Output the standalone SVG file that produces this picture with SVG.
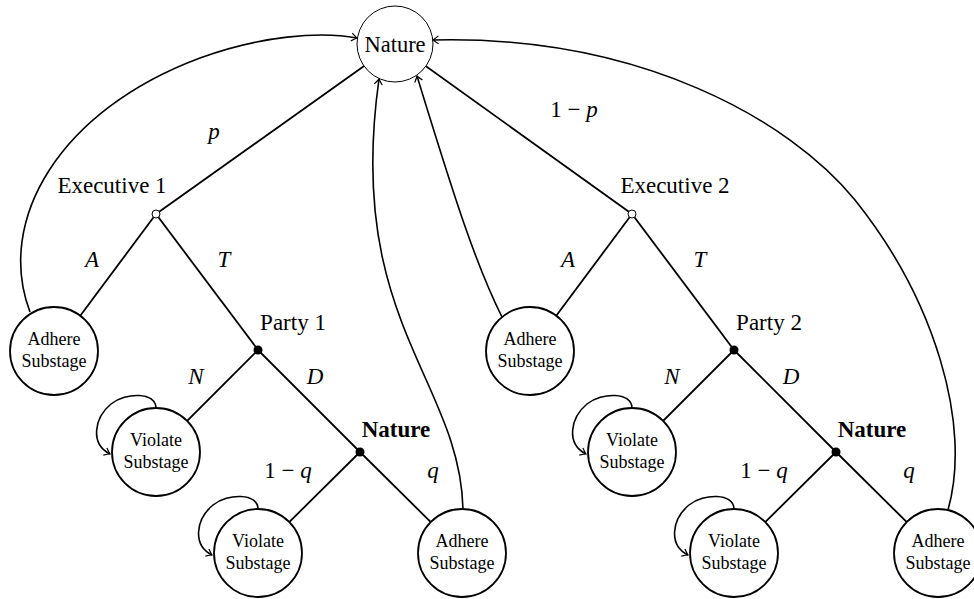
<svg xmlns="http://www.w3.org/2000/svg" width="974" height="599" viewBox="0 0 974 599">
<style>
.lbl{font-size:23px;text-anchor:middle}
.m{font-size:23px;text-anchor:middle;font-style:italic}
.b{font-size:23px;text-anchor:middle;font-weight:bold}
.nt{font-size:18px;text-anchor:middle}
.edge{stroke:#000;stroke-width:1.8;fill:none}
.curve{stroke:#000;stroke-width:1.6;fill:none;marker-end:url(#arr)}
.leaf{fill:#fff;stroke:#000;stroke-width:1.8}
.open{fill:#fff;stroke:#000;stroke-width:1}
.dot{fill:#000}
</style>
<defs>
<marker id="arr" viewBox="-7 -6 9 12" refX="0" refY="0" markerWidth="9" markerHeight="12" markerUnits="userSpaceOnUse" orient="auto" overflow="visible">
<path d="M -5.5 -4 Q -1.5 -0.9 0 0 Q -1.5 0.9 -5.5 4" fill="none" stroke="#000" stroke-width="1.2"/>
</marker>
</defs>
<rect width="974" height="599" fill="#fff"/>
<g font-family="Liberation Serif" fill="#000">
<g id="connectors">
<path class="edge" d="M395 44 L156 214"/>
<path class="edge" d="M395 44 L632 214"/>
<path class="edge" d="M156 214 L54 351"/>
<path class="edge" d="M156 214 L258 350"/>
<path class="edge" d="M258 350 L156 452"/>
<path class="edge" d="M258 350 L360 452"/>
<path class="edge" d="M360 452 L258 553"/>
<path class="edge" d="M360 452 L462 553"/>
<path class="edge" d="M632 214 L530 351"/>
<path class="edge" d="M632 214 L734 350"/>
<path class="edge" d="M734 350 L632 452"/>
<path class="edge" d="M734 350 L836 452"/>
<path class="edge" d="M836 452 L734 553"/>
<path class="edge" d="M836 452 L938 553"/>
<path class="curve" d="M30 312 C-5 220 60 110 200 58 C260 36 320 31 357 38"/>
<path class="curve" d="M463 509 C460 380 345 320 379 79"/>
<path class="curve" d="M502 317 C476 265 455 200 417 76"/>
<path class="curve" d="M948 510 C972 425 935 300 855 200 C790 120 640 35 433 40"/>
<path class="curve" transform="translate(156 452)" d="M0 -44 C0 -60 -30 -60 -45 -48 C-62 -34 -66 -8 -46 2"/>
<path class="curve" transform="translate(258 553)" d="M0 -44 C0 -60 -30 -60 -45 -48 C-62 -34 -66 -8 -46 2"/>
<path class="curve" transform="translate(632 452)" d="M0 -44 C0 -60 -30 -60 -45 -48 C-62 -34 -66 -8 -46 2"/>
<path class="curve" transform="translate(734 553)" d="M0 -44 C0 -60 -30 -60 -45 -48 C-62 -34 -66 -8 -46 2"/>
</g>
<g id="edge-labels">
<text class="m" x="214" y="139">p</text>
<text class="lbl" x="574" y="117">1 − <tspan font-style="italic">p</tspan></text>
<text class="m" x="92" y="267">A</text>
<text class="m" x="224" y="267">T</text>
<text class="m" x="568" y="267">A</text>
<text class="m" x="700" y="267">T</text>
<text class="m" x="196" y="384">N</text>
<text class="m" x="315" y="384">D</text>
<text class="m" x="672" y="384">N</text>
<text class="m" x="791" y="384">D</text>
<text class="lbl" x="288" y="478">1 − <tspan font-style="italic">q</tspan></text>
<text class="m" x="433" y="478">q</text>
<text class="lbl" x="764" y="478">1 − <tspan font-style="italic">q</tspan></text>
<text class="m" x="909" y="478">q</text>
</g>
<g id="nature-root">
<circle cx="395" cy="44" r="38" fill="#fff" stroke="#000" stroke-width="1"/>
<text class="lbl" x="395" y="52" style="font-size:22.5px">Nature</text>
</g>
<g id="executive1">
<circle class="open" cx="156" cy="214" r="4"/>
<text class="lbl" x="112" y="193">Executive 1</text>
</g>
<g id="executive2">
<circle class="open" cx="632" cy="214" r="4"/>
<text class="lbl" x="675" y="193">Executive 2</text>
</g>
<g id="party1">
<circle class="dot" cx="258" cy="350" r="4.5"/>
<text class="lbl" x="293" y="330">Party 1</text>
</g>
<g id="party2">
<circle class="dot" cx="734" cy="350" r="4.5"/>
<text class="lbl" x="769" y="330">Party 2</text>
</g>
<g id="nature1">
<circle class="dot" cx="360" cy="452" r="4.5"/>
<text class="b" x="396" y="437">Nature</text>
</g>
<g id="nature2">
<circle class="dot" cx="836" cy="452" r="4.5"/>
<text class="b" x="872" y="437">Nature</text>
</g>
<g id="adhere-a1">
<circle class="leaf" cx="54" cy="351" r="44"/>
<text class="nt" x="54" y="345">Adhere</text>
<text class="nt" x="54" y="367">Substage</text>
</g>
<g id="violate-n1">
<circle class="leaf" cx="156" cy="452" r="44"/>
<text class="nt" x="156" y="446">Violate</text>
<text class="nt" x="156" y="468">Substage</text>
</g>
<g id="violate-q1">
<circle class="leaf" cx="258" cy="553" r="44"/>
<text class="nt" x="258" y="547">Violate</text>
<text class="nt" x="258" y="569">Substage</text>
</g>
<g id="adhere-q1">
<circle class="leaf" cx="462" cy="553" r="44"/>
<text class="nt" x="462" y="547">Adhere</text>
<text class="nt" x="462" y="569">Substage</text>
</g>
<g id="adhere-a2">
<circle class="leaf" cx="530" cy="351" r="44"/>
<text class="nt" x="530" y="345">Adhere</text>
<text class="nt" x="530" y="367">Substage</text>
</g>
<g id="violate-n2">
<circle class="leaf" cx="632" cy="452" r="44"/>
<text class="nt" x="632" y="446">Violate</text>
<text class="nt" x="632" y="468">Substage</text>
</g>
<g id="violate-q2">
<circle class="leaf" cx="734" cy="553" r="44"/>
<text class="nt" x="734" y="547">Violate</text>
<text class="nt" x="734" y="569">Substage</text>
</g>
<g id="adhere-q2">
<circle class="leaf" cx="938" cy="553" r="44"/>
<text class="nt" x="938" y="547">Adhere</text>
<text class="nt" x="938" y="569">Substage</text>
</g>
</g>
</svg>
